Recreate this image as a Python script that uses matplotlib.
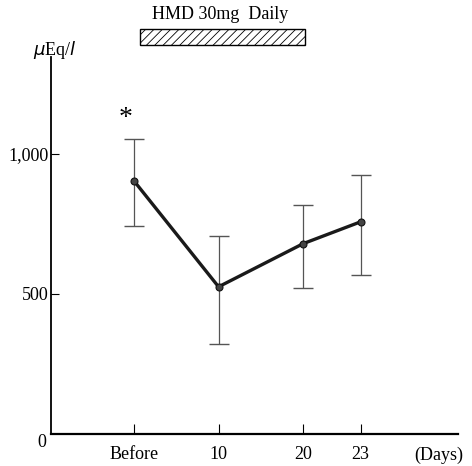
import numpy as np
from matplotlib import pyplot as plt
from matplotlib.patches import Rectangle

# x axis in the original is not to scale: 23 sits well past 20
day_labels = ['Before', '10', '20', '23']
x_pos = [0, 1, 2, 2.68]
mean_val = [903, 525, 679, 757]
upper_val = [1054, 707, 818, 925]
lower_val = [743, 321, 521, 568]

yticks = [500, 1000]
ytick_labels = ['500', '1,000']

plt.rcParams['font.family'] = ['Liberation Serif', 'DejaVu Serif']
plt.rcParams['hatch.linewidth'] = 0.6
plt.rcParams['hatch.color'] = '#444444'

fig = plt.figure(figsize=(4.72, 4.66), dpi=100)
ax = fig.add_axes([0.108, 0.069, 0.862, 0.809])

m = np.array(mean_val)
err = [m - np.array(lower_val), np.array(upper_val) - m]
ax.errorbar(x_pos, mean_val, yerr=err, fmt='none', ecolor='#555555',
            elinewidth=0.9, capsize=7.5, capthick=1.0, zorder=2)
ax.plot(x_pos, mean_val, color='#1a1a1a', lw=2.4, zorder=3)
ax.plot(x_pos, mean_val, 'o', ms=5, mfc='#444444', mec='#111111', mew=0.8, zorder=4)

ax.set_xlim(-0.982, 3.83)
ax.set_ylim(0, 1346)
ax.spines['top'].set_visible(False)
ax.spines['right'].set_visible(False)
ax.spines['left'].set_linewidth(1.3)
ax.spines['bottom'].set_linewidth(1.6)

ax.set_xticks(x_pos)
ax.set_xticklabels(day_labels, fontsize=13)
ax.set_yticks(yticks)
ax.set_yticklabels(ytick_labels, fontsize=13)
ax.tick_params(axis='x', direction='in', length=7, width=0.8, pad=9)
ax.tick_params(axis='y', direction='in', length=6, width=0.8, pad=2)

ax.text(-1.04, -30, '0', fontsize=13, ha='right', va='center', clip_on=False)
ax.text(3.6, -77, '(Days)', fontsize=13, ha='center', va='center', clip_on=False)
ax.text(-0.94, 1370, r'$\mu$Eq/$l$', fontsize=13, ha='center', va='center', clip_on=False)
ax.text(-0.1, 1125, '*', fontsize=20, fontweight='light', ha='center', va='center')

# treatment bar
ax.add_patch(Rectangle((0.07, 1389), 1.95, 57, facecolor='white', edgecolor='black',
                       hatch='////', lw=1.0, clip_on=False))
ax.text(1.02, 1497, 'HMD 30mg  Daily', fontsize=13, ha='center', va='center', clip_on=False)

plt.savefig('out.png', dpi=100)
